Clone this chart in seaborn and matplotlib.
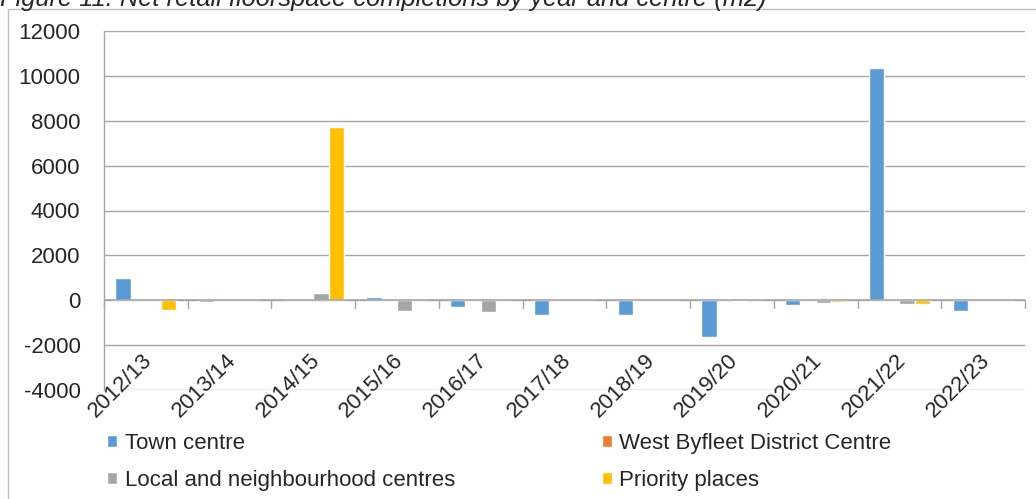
import matplotlib
matplotlib.use("Agg")
import matplotlib.pyplot as plt
import seaborn as sns
import pandas as pd
from matplotlib.patches import Rectangle

years = ["2012/13", "2013/14", "2014/15", "2015/16", "2016/17", "2017/18",
         "2018/19", "2019/20", "2020/21", "2021/22", "2022/23"]
series = ["Town centre", "West Byfleet District Centre",
          "Local and neighbourhood centres", "Priority places"]
town_centre = [980, -80, 0, 150, -310, -640, -650, -1650, -210, 10330, -470]
west_byfleet = [0, 0, 0, 0, 15, 10, 0, 15, 0, 0, 0]
local_centres = [0, 0, 310, -480, -520, 0, 0, -15, -130, -170, 30]
priority_places = [-420, 0, 7700, 15, 0, 0, 0, 0, -70, -150, 30]
colors = ["#5B9BD5", "#ED7D31", "#A5A5A5", "#FFC000"]
yticks = [-4000, -2000, 0, 2000, 4000, 6000, 8000, 10000, 12000]

rows = []
for s, vals in zip(series, [town_centre, west_byfleet, local_centres, priority_places]):
    for y, v in zip(years, vals):
        rows.append({"Year": y, "Series": s, "Value": v})
df = pd.DataFrame(rows)

sns.set_style("white")
plt.rcParams["font.family"] = ["Liberation Sans", "DejaVu Sans"]

fig = plt.figure(figsize=(10.36, 4.99), dpi=100)
ax = fig.add_axes([104/1036, 1-390/499, (1025-104)/1036, (390-31)/499])

sns.barplot(data=df, x="Year", y="Value", hue="Series", hue_order=series,
            palette=colors, width=0.73, gap=0, saturation=1, ax=ax,
            errorbar=None, legend=False)

ax.set_ylim(-4000, 12000)
ax.set_xlim(-0.5, len(years) - 0.5)
ax.set_yticks(yticks)
ax.set_yticklabels([str(t) for t in yticks], fontsize=16)
ax.yaxis.grid(True, color="#A6A6A6", linewidth=1)
ax.set_axisbelow(True)
ax.set_xlabel("")
ax.set_ylabel("")
for sp in ["top", "right", "bottom"]:
    ax.spines[sp].set_visible(False)
ax.spines["left"].set_color("#A6A6A6")
ax.spines["left"].set_linewidth(1)
ax.tick_params(axis="y", length=0, pad=17)

# zero axis line and category boundary ticks
ax.axhline(0, color="#A6A6A6", linewidth=1.2, zorder=1)
ax.set_xticks(range(len(years)))
ax.set_xticklabels([])
ax.tick_params(axis="x", length=0)
for i in range(len(years) + 1):
    ax.plot([i - 0.5, i - 0.5], [0, -350], color="#A6A6A6", linewidth=1,
            zorder=1, clip_on=False)
for i, y in enumerate(years):
    ax.text(i - 0.05, -2200, y, rotation=45, ha="right", va="top",
            rotation_mode="anchor", fontsize=16)

# legend
handles = [Rectangle((0, 0), 1, 1, facecolor=c) for c in colors]
order = [0, 2, 1, 3]
leg = fig.legend([handles[i] for i in order], [series[i] for i in order],
                 ncol=2, loc="upper left", bbox_to_anchor=(98/1036, 1-424/499),
                 frameon=False, fontsize=16, handlelength=0.45,
                 handleheight=0.45, handletextpad=0.35, columnspacing=6.6,
                 labelspacing=0.72, borderaxespad=0)

# chart border
fig.patches.append(Rectangle((8/1036, -0.01), 1.2, 1-9/499+0.01,
                             transform=fig.transFigure, fill=False,
                             edgecolor="#BFBFBF", linewidth=1))

fig.text(0.0, 1-6/499, "Figure 11: Net retail floorspace completions by year and centre (m2)",
         fontsize=18.4, style="italic", va="baseline", ha="left")

fig.savefig("out.png", dpi=100)
